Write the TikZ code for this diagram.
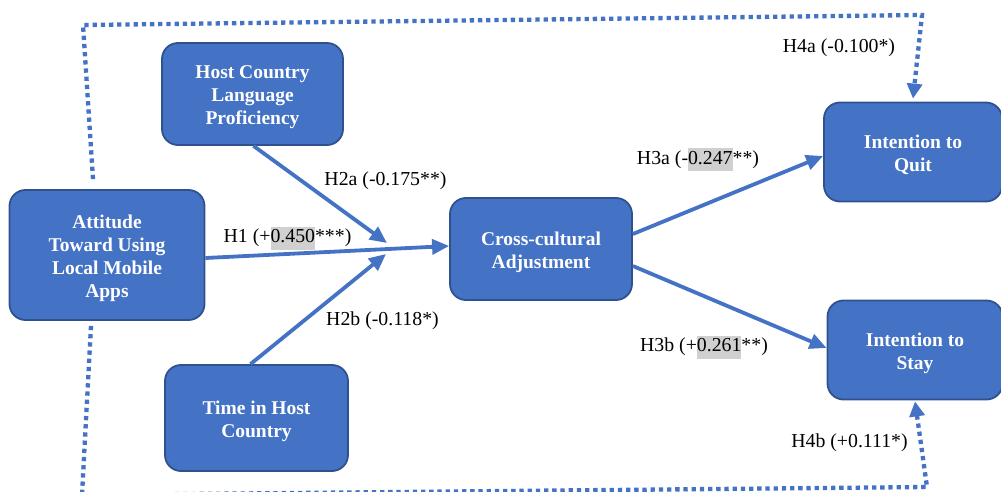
\documentclass[tikz,border=0pt]{standalone}
\usepackage{fontspec}
\setmainfont{Liberation Serif}
\usetikzlibrary{arrows.meta,calc}
\definecolor{boxblue}{HTML}{4472C4}
\definecolor{boxedge}{HTML}{2F528F}
\definecolor{hlgray}{HTML}{D0D0D0}
\newcommand\hlt[1]{{\setlength{\fboxsep}{0pt}\colorbox{hlgray}{\strut #1}}}
\tikzset{
  construct/.style={draw=boxedge, line width=1.8pt, fill=boxblue, rounded corners=16pt,
    inner sep=0pt},
  boxtext/.style={text=white, align=center, inner sep=0pt, anchor=center,
    font=\fontsize{19.5}{23}\selectfont\bfseries},
  pathlabel/.style={inner sep=0pt, anchor=center, font=\fontsize{19.8}{23}\selectfont},
  link/.style={draw=boxblue, line width=3.8pt, -{Triangle[length=17pt,width=15pt]}},
  dotlink/.style={draw=boxblue, line width=4.3pt, dash pattern=on 4.3pt off 3.9pt,
    -{Triangle[length=15pt,width=15pt]}},
}
\begin{document}
\begin{tikzpicture}[x=1pt,y=-1pt]
\useasboundingbox (0,0) rectangle (1001,492);

\node[construct, minimum width=181pt, minimum height=102pt] (host) at (252.5,94) {};
\node[construct, minimum width=195pt, minimum height=130pt] (att) at (107,255) {};
\node[construct, minimum width=183pt, minimum height=106pt] (time) at (256.5,418) {};
\node[construct, minimum width=182pt, minimum height=102pt] (cc) at (541,249) {};
\node[construct, minimum width=178pt, minimum height=99pt] (quit) at (913,152) {};
\node[construct, minimum width=175pt, minimum height=99pt] (stay) at (915,350) {};

\node[boxtext] (hostT) at ([yshift=-3pt]host.center) {Host Country\\Language\\Proficiency};
\node[boxtext] (attT) at ([yshift=-3pt]att.center) {Attitude\\Toward Using\\Local Mobile\\Apps};
\node[boxtext] (timeT) at ([yshift=-3pt]time.center) {Time in Host\\Country};
\node[boxtext] (ccT) at ([yshift=-3pt]cc.center) {Cross-cultural\\Adjustment};
\node[boxtext] (quitT) at ([yshift=-3pt]quit.center) {Intention to\\Quit};
\node[boxtext] (stayT) at ([yshift=-3pt]stay.center) {Intention to\\Stay};

\coordinate (j1) at (387,243);
\coordinate (j2) at (386,254);
\coordinate (tl) at (83,25);
\coordinate (tr) at (922,15);
\coordinate (bl) at (82,495);
\coordinate (br) at (927,487);

\draw[link] ([yshift=-3pt]att.east) -- ([yshift=3pt]cc.west);
\draw[link] ([xshift=1pt]host.south) -- (j1);
\draw[link] ([xshift=-6pt]time.north) -- (j2);
\draw[link] ([yshift=15pt]cc.east) -- ([yshift=-4pt]quit.west);
\draw[link] ([yshift=-17pt]cc.east) -- ([yshift=2pt]stay.west);

\draw[dotlink] ([xshift=-14pt,yshift=10pt]att.north) -- (tl) -- (tr) -- ([yshift=3pt]quit.north);
\draw[dotlink] ([xshift=-16pt,yshift=-5pt]att.south) -- (bl) -- (br) -- ([yshift=-1pt]stay.south);

\node[pathlabel] (lh2a) at (385.5,181) {H2a (-0.175**)};
\node[pathlabel] (lh1) at (287.5,238) {H1 (+\hlt{0.450}***)};
\node[pathlabel] (lh2b) at (382.5,321) {H2b (-0.118*)};
\node[pathlabel] (lh3a) at (698,160) {H3a (-\hlt{0.247}**)};
\node[pathlabel] (lh4a) at (839,48) {H4a (-0.100*)};
\node[pathlabel] (lh3b) at (704,347) {H3b (+\hlt{0.261}**)};
\node[pathlabel] (lh4b) at (849.5,443) {H4b (+0.111*)};
\end{tikzpicture}
\end{document}
